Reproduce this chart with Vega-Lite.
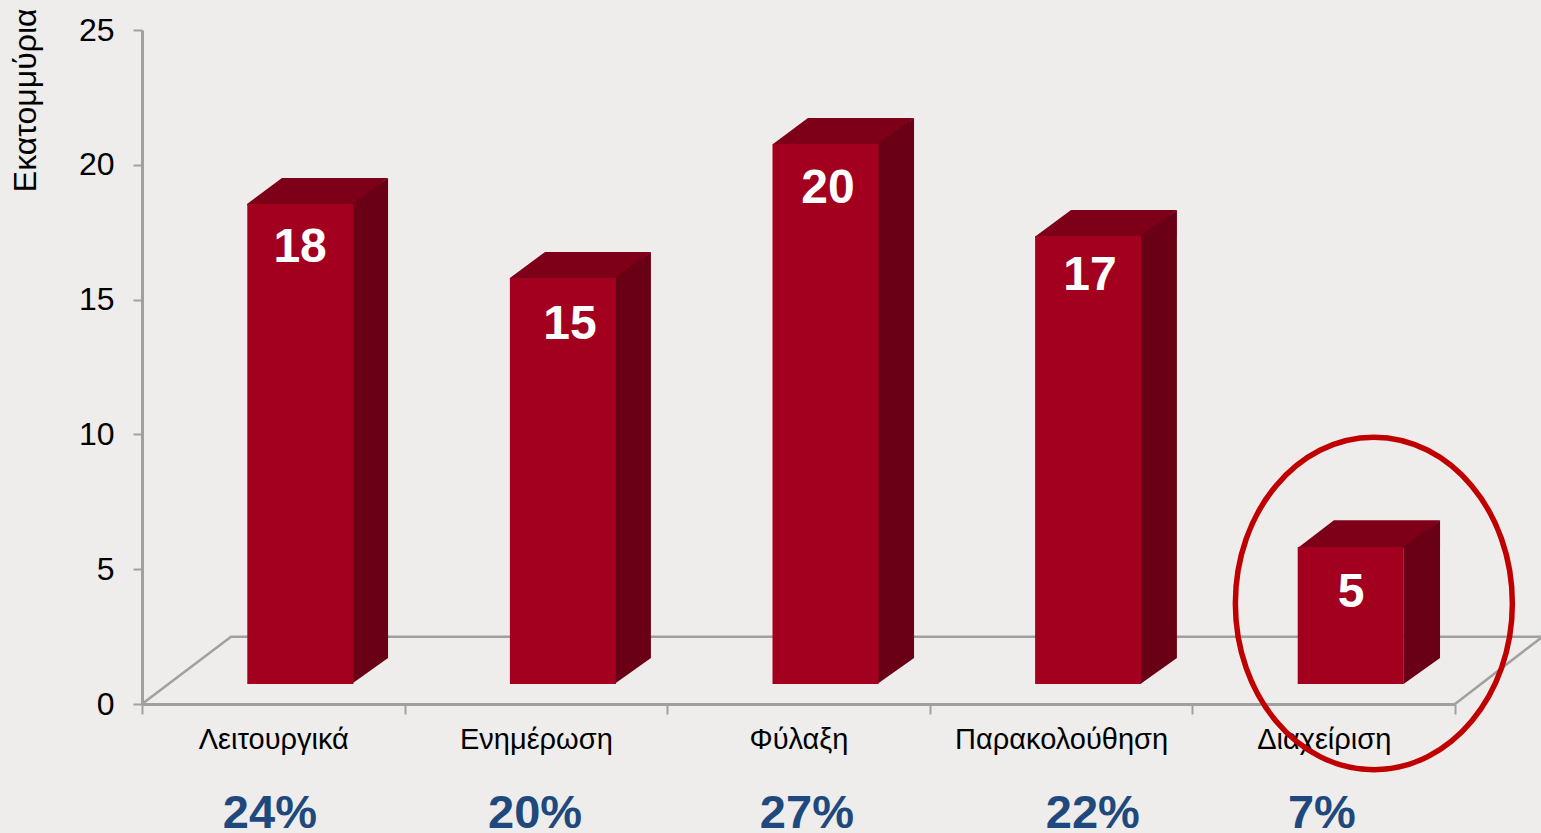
{
"$schema":"https://vega.github.io/schema/vega-lite/v6.json",
"width":1313,"height":674,
"autosize":"none",
"padding":{"left":142,"top":30,"right":86,"bottom":129},
"background":"#EEEDEB",
"config":{"view":{"stroke":null},"font":"Liberation Sans"},
"datasets":{
"bars":[
{"category":"Λειτουργικά","height":18.55,"base":0.74},
{"category":"Ενημέρωση","height":15.8,"base":0.74},
{"category":"Φύλαξη","height":20.77,"base":0.74},
{"category":"Παρακολούθηση","height":17.36,"base":0.74},
{"category":"Διαχείριση","height":5.82,"base":0.74}
],
"faces":[
{"bar":"a","face":"top","u":0.4,"lo":18.5,"hi":18.55},{"bar":"a","face":"top","u":0.533,"lo":18.5,"hi":19.51},{"bar":"a","face":"top","u":0.804,"lo":18.5,"hi":19.51},{"bar":"a","face":"top","u":0.937,"lo":19.51,"hi":19.51},
{"bar":"a","face":"side","u":0.798,"lo":0.74,"hi":18.55},{"bar":"a","face":"side","u":0.937,"lo":1.71,"hi":19.51},
{"bar":"b","face":"top","u":1.401,"lo":15.75,"hi":15.8},{"bar":"b","face":"top","u":1.535,"lo":15.75,"hi":16.77},{"bar":"b","face":"top","u":1.805,"lo":15.75,"hi":16.77},{"bar":"b","face":"top","u":1.938,"lo":16.77,"hi":16.77},
{"bar":"b","face":"side","u":1.799,"lo":0.74,"hi":15.8},{"bar":"b","face":"side","u":1.938,"lo":1.71,"hi":16.77},
{"bar":"c","face":"top","u":2.403,"lo":20.72,"hi":20.77},{"bar":"c","face":"top","u":2.536,"lo":20.72,"hi":21.74},{"bar":"c","face":"top","u":2.806,"lo":20.72,"hi":21.74},{"bar":"c","face":"top","u":2.94,"lo":21.74,"hi":21.74},
{"bar":"c","face":"side","u":2.8,"lo":0.74,"hi":20.77},{"bar":"c","face":"side","u":2.94,"lo":1.71,"hi":21.74},
{"bar":"d","face":"top","u":3.404,"lo":17.31,"hi":17.36},{"bar":"d","face":"top","u":3.538,"lo":17.31,"hi":18.32},{"bar":"d","face":"top","u":3.808,"lo":17.31,"hi":18.32},{"bar":"d","face":"top","u":3.941,"lo":18.32,"hi":18.32},
{"bar":"d","face":"side","u":3.802,"lo":0.74,"hi":17.36},{"bar":"d","face":"side","u":3.941,"lo":1.71,"hi":18.32},
{"bar":"e","face":"top","u":4.406,"lo":5.77,"hi":5.82},{"bar":"e","face":"top","u":4.539,"lo":5.77,"hi":6.82},{"bar":"e","face":"top","u":4.81,"lo":5.77,"hi":6.82},{"bar":"e","face":"top","u":4.943,"lo":6.82,"hi":6.82},
{"bar":"e","face":"side","u":4.804,"lo":0.74,"hi":5.82},{"bar":"e","face":"side","u":4.943,"lo":1.71,"hi":6.82}
],
"floor":[
{"edge":"left","u":0,"v":0},{"edge":"left","u":0.339,"v":2.49},{"edge":"left","u":5.327,"v":2.49},
{"edge":"right","u":5,"v":0},{"edge":"right","u":5.327,"v":2.45}
],
"values":[
{"label":"18","u":0.602,"v":16.93},{"label":"15","u":1.63,"v":14.07},{"label":"20","u":2.612,"v":19.11},{"label":"17","u":3.61,"v":15.89},{"label":"5","u":4.604,"v":4.13}
],
"shares":[
{"label":"24%","u":0.487,"v":-4.6},{"label":"20%","u":1.497,"v":-4.6},{"label":"27%","u":2.532,"v":-4.6},{"label":"22%","u":3.621,"v":-4.6},{"label":"7%","u":4.493,"v":-4.6}
],
"highlight":[{"category":"Διαχείριση","u":4.691,"v":3.73}]
},
"resolve":{"scale":{"x":"independent"}},
"layer":[
{"data":{"name":"floor"},"mark":{"type":"line","stroke":"#A0A0A0","strokeWidth":2.5},
"encoding":{"x":{"field":"u","type":"quantitative","scale":{"domain":[0,5]},"axis":null},
"y":{"field":"v","type":"quantitative","scale":{"domain":[0,25]},
"axis":{"title":"Εκατομμύρια","titleFontSize":32,"titleFontWeight":"normal","titleColor":"#000000","titleAngle":270,"titleX":-107,"titleY":-22,"titleAlign":"right","titleBaseline":"alphabetic","values":[0,5,10,15,20,25],"labelFontSize":32,"labelColor":"#000000","labelPadding":19,"tickSize":9,"tickWidth":2,"tickColor":"#A0A0A0","domainColor":"#A0A0A0","domainWidth":3,"grid":false}},
"detail":{"field":"edge"}}},
{"data":{"name":"faces"},"mark":{"type":"area"},
"encoding":{"x":{"field":"u","type":"quantitative","scale":{"domain":[0,5]},"axis":null},
"y":{"field":"lo","type":"quantitative","scale":{"domain":[0,25]}},"y2":{"field":"hi"},
"detail":{"field":"bar"},
"color":{"field":"face","type":"nominal","legend":null,"scale":{"domain":["top","side"],"range":["#7D0018","#690015"]}}}},
{"data":{"name":"bars"},"mark":{"type":"bar","width":106,"xOffset":27,"color":"#A30020"},
"encoding":{"x":{"field":"category","type":"nominal","sort":null,"scale":{"paddingInner":0,"paddingOuter":0},
"axis":{"title":null,"labelAngle":0,"labelFontSize":29,"labelColor":"#000000","labelPadding":11,"tickBand":"extent","tickSize":10,"tickWidth":2,"tickColor":"#A0A0A0","domainColor":"#A0A0A0","domainWidth":3,"labelOverlap":false,"labelLimit":400,"grid":false}},
"y":{"field":"height","type":"quantitative","scale":{"domain":[0,25]}},
"y2":{"field":"base"}}},
{"data":{"name":"values"},"mark":{"type":"text","color":"#FFFFFF","fontSize":48,"fontWeight":"bold","baseline":"middle","align":"center"},
"encoding":{"x":{"field":"u","type":"quantitative","scale":{"domain":[0,5]},"axis":null},
"y":{"field":"v","type":"quantitative","scale":{"domain":[0,25]}},"text":{"field":"label"}}},
{"data":{"name":"shares"},"mark":{"type":"text","color":"#1F497D","fontSize":47,"fontWeight":"bold","baseline":"alphabetic","align":"center"},
"encoding":{"x":{"field":"u","type":"quantitative","scale":{"domain":[0,5]},"axis":null},
"y":{"field":"v","type":"quantitative","scale":{"domain":[0,25]}},"text":{"field":"label"}}},
{"data":{"name":"highlight"},"mark":{"type":"point","shape":"M-1,0A1,1.2 0 1,1 1,0A1,1.2 0 1,1 -1,0Z","size":76728,"filled":false,"stroke":"#C00000","strokeWidth":5.5,"opacity":1},
"encoding":{"x":{"field":"u","type":"quantitative","scale":{"domain":[0,5]},"axis":null},
"y":{"field":"v","type":"quantitative","scale":{"domain":[0,25]}}}}
]
}
